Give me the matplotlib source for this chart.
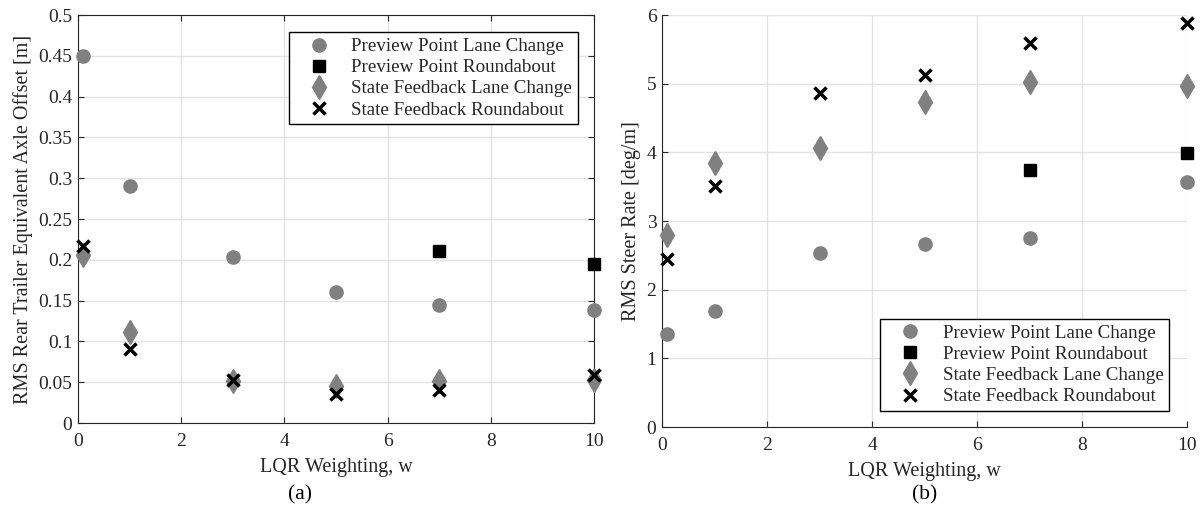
import matplotlib
matplotlib.use('Agg')
from matplotlib import pyplot as plt
from matplotlib.ticker import FormatStrFormatter

plt.rcParams['font.family'] = ['Liberation Serif', 'DejaVu Serif']
plt.rcParams['font.size'] = 14

# data
w = [0.1, 1, 3, 5, 7, 10]
w_rb = [7, 10]

offset_pp_lc = [0.45, 0.29, 0.203, 0.161, 0.145, 0.139]
offset_pp_rb = [0.211, 0.195]
offset_sf_lc = [0.206, 0.111, 0.051, 0.045, 0.052, 0.053]
offset_sf_rb = [0.217, 0.091, 0.053, 0.035, 0.040, 0.059]

steer_pp_lc = [1.35, 1.69, 2.53, 2.66, 2.75, 3.57]
steer_pp_rb = [3.74, 3.99]
steer_sf_lc = [2.80, 3.85, 4.06, 4.74, 5.03, 4.97]
steer_sf_rb = [2.44, 3.51, 4.87, 5.13, 5.59, 5.89]

labels = ['Preview Point Lane Change', 'Preview Point Roundabout',
          'State Feedback Lane Change', 'State Feedback Roundabout']
grey = '#808080'
dark = '#262626'


def draw(ax, pp_lc, pp_rb, sf_lc, sf_rb):
    kw = dict(linestyle='none', clip_on=False, zorder=3)
    ax.plot(w, pp_lc, 'o', color=grey, ms=9.5, label=labels[0], **kw)
    ax.plot(w_rb, pp_rb, 's', color='black', ms=8, label=labels[1], **kw)
    ax.plot(w, sf_lc, 'd', color=grey, ms=12, label=labels[2], **kw)
    ax.plot(w, sf_rb, 'x', color='black', ms=8, mew=2.5, label=labels[3], **kw)
    ax.set_xlim(0, 10)
    ax.grid(True, color='#e3e3e3', lw=1)
    ax.set_axisbelow(True)
    ax.tick_params(direction='in', length=4, color=dark,
                   labelcolor=dark, labelsize=14)
    ax.tick_params(axis='x', pad=7)
    ax.tick_params(axis='y', pad=4)
    ax.set_xlabel('LQR Weighting, w', fontsize=14.5, color=dark, labelpad=6)
    for s in ax.spines.values():
        s.set_color(dark)


def add_legend(ax, loc, anchor):
    leg = ax.legend(loc=loc, bbox_to_anchor=anchor, borderaxespad=0,
                    fancybox=False, edgecolor='black', framealpha=1,
                    fontsize=13.7, handlelength=2.6, handletextpad=0.4,
                    borderpad=0.3, labelspacing=0.2)
    leg.get_frame().set_linewidth(1)
    for t in leg.get_texts():
        t.set_color(dark)


fig = plt.figure(figsize=(12.02, 5.15), dpi=100)
ax1 = fig.add_axes([78 / 1202, 1 - 423 / 515, 516 / 1202, 408 / 515])
ax2 = fig.add_axes([662 / 1202, 1 - 427 / 515, 525 / 1202, 412 / 515])

draw(ax1, offset_pp_lc, offset_pp_rb, offset_sf_lc, offset_sf_rb)
ax1.set_ylim(0, 0.5)
ax1.set_yticks([0, 0.05, 0.1, 0.15, 0.2, 0.25, 0.3, 0.35, 0.4, 0.45, 0.5])
ax1.yaxis.set_major_formatter(FormatStrFormatter('%g'))
ax1.set_ylabel('RMS Rear Trailer Equivalent Axle Offset [m]', fontsize=14.5,
               color=dark)
ax1.tick_params(top=True, right=True)
add_legend(ax1, 'upper right', (0.969, 0.958))

draw(ax2, steer_pp_lc, steer_pp_rb, steer_sf_lc, steer_sf_rb)
ax2.set_ylim(0, 6)
ax2.set_ylabel('RMS Steer Rate [deg/m]', fontsize=14.5, color=dark)
ax2.spines['top'].set_visible(False)
ax2.spines['right'].set_visible(False)
add_legend(ax2, 'lower right', (0.966, 0.039))

fig.text(300 / 1202, 1 - 495 / 515, '(a)', ha='center', va='center',
         fontsize=15.5)
fig.text(925 / 1202, 1 - 495 / 515, '(b)', ha='center', va='center',
         fontsize=15.5)

fig.savefig('out.png', dpi=100)
